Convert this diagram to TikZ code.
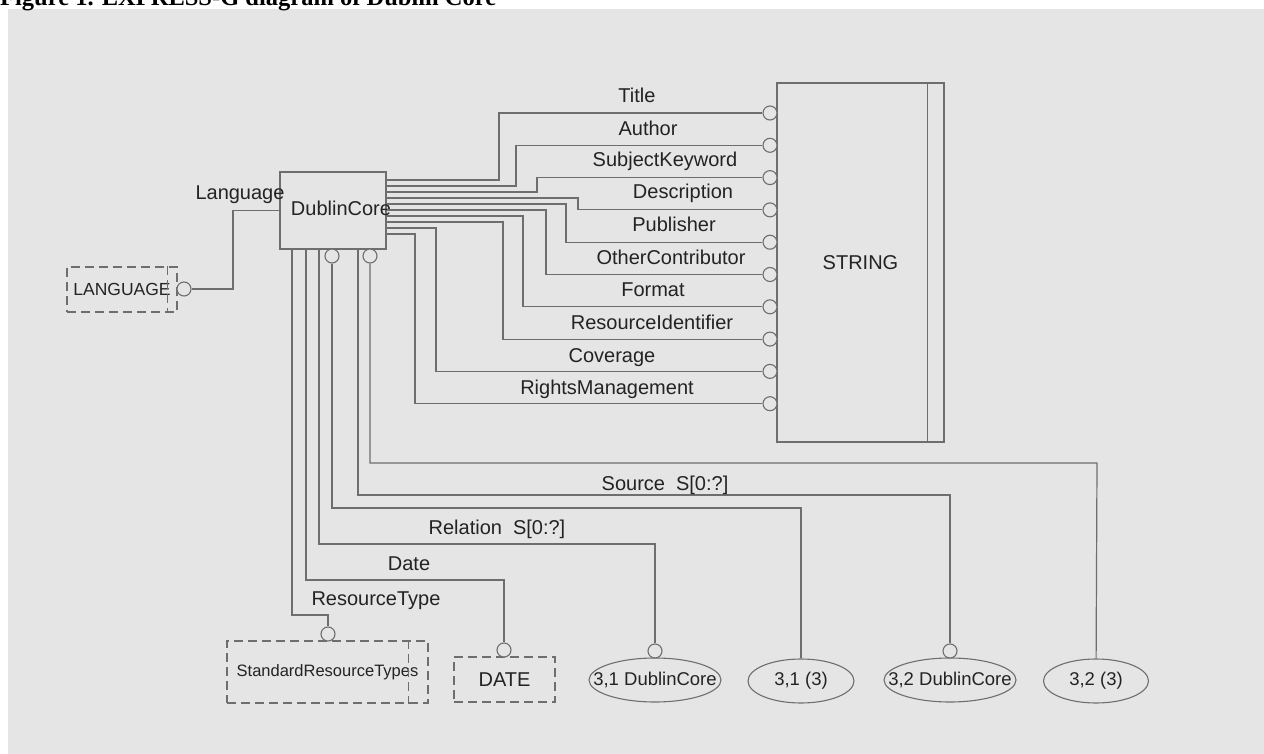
\documentclass[tikz,border=0pt]{standalone}
\usepackage{fontspec}
\setmainfont{Liberation Sans}
\newfontfamily\capfont{Liberation Serif}
\usetikzlibrary{shapes.geometric}

\definecolor{scan}{RGB}{229,229,229}
\definecolor{ink}{RGB}{110,110,110}
\definecolor{txt}{RGB}{35,35,35}

\begin{document}
\begin{tikzpicture}[
  x=1pt, y=-1pt,
  font=\fontsize{20}{24}\selectfont,
  % Node styles
  entity/.style={rectangle, draw=ink, line width=1.2pt, fill=scan, inner sep=0pt, text=txt},
  dtype/.style={rectangle, draw=ink, line width=1.1pt, dash pattern=on 9pt off 5pt, inner sep=0pt, text=txt},
  pageref/.style={ellipse, draw=ink, line width=1.1pt, inner sep=0pt, minimum height=44pt, text=txt, font=\fontsize{18.5}{22}\selectfont},
  knob/.style={circle, draw=ink, line width=1.1pt, fill=scan, inner sep=0pt, minimum size=14pt},
  lbl/.style={inner sep=0pt, anchor=base, text=txt},
  wire/.style={draw=ink, line width=1.2pt}
]

  % ============================================
  % Page and caption
  % ============================================
  \useasboundingbox (0,0) rectangle (1264,754);
  \fill[scan] (8,9) rectangle (1264,754);
  \node[anchor=base west, inner sep=0pt, font=\capfont\bfseries\fontsize{24.5}{28}\selectfont] (caption) at (0,6) {Figure 1. EXPRESS-G diagram of Dublin Core};

  % ============================================
  % Entity and types
  % ============================================
  \node[entity, minimum width=106pt, minimum height=77pt] (dc) at (333,210.5) {};
  \node[lbl] (dcName) at (341,216) {DublinCore};

  \node[entity, minimum width=167pt, minimum height=359pt] (str) at (860.5,262.5) {STRING};
  \draw[wire] ([xshift=-17pt]str.north east) -- ([xshift=-17pt]str.south east);

  \node[dtype, minimum width=110pt, minimum height=45pt, font=\fontsize{17.5}{21}\selectfont] (lang) at (122,289.5) {LANGUAGE};
  \draw[wire, dash pattern=on 9pt off 5pt] ([xshift=-10pt]lang.north east) -- ([xshift=-10pt]lang.south east);

  \node[dtype, minimum width=201pt, minimum height=62pt, font=\fontsize{16.5}{20}\selectfont] (srt) at (327.5,672) {StandardResourceTypes};
  \draw[wire, dash pattern=on 9pt off 5pt] ([xshift=-20pt]srt.north east) -- ([xshift=-20pt]srt.south east);

  \node[dtype, minimum width=101pt, minimum height=45pt] (date) at (504.5,679.5) {DATE};

  % Page references
  \node[pageref, minimum width=132pt] (r31dc) at (655,680) {\makebox[0pt]{3,1 DublinCore}};
  \node[pageref, minimum width=106pt] (r313) at (801,681) {\makebox[0pt]{3,1 (3)}};
  \node[pageref, minimum width=132pt] (r32dc) at (950,680) {\makebox[0pt]{3,2 DublinCore}};
  \node[pageref, minimum width=105pt] (r323) at (1096,681) {\makebox[0pt]{3,2 (3)}};

  % ============================================
  % Optional markers
  % ============================================
  \node[knob] (kLang) at (184,289) {};
  \node[knob] (kTitle) at (770,113) {};
  \node[knob] (kAuthor) at (770,145.3) {};
  \node[knob] (kSubject) at (770,177.6) {};
  \node[knob] (kDescr) at (770,209.9) {};
  \node[knob] (kPubl) at (770,242.2) {};
  \node[knob] (kOther) at (770,274.5) {};
  \node[knob] (kFormat) at (770,306.8) {};
  \node[knob] (kResId) at (770,339.1) {};
  \node[knob] (kCover) at (770,371.4) {};
  \node[knob] (kRights) at (770,403.7) {};
  \node[knob] (kDCa) at (332,256) {};
  \node[knob] (kDCb) at (370,256) {};
  \node[knob] (kRT) at (328,634) {};
  \node[knob] (kDate) at (504,650) {};
  \node[knob] (k31dc) at (655,651) {};
  \node[knob] (k32dc) at (950,651) {};

  % ============================================
  % Edges: attributes to STRING
  % ============================================
  \draw[wire] (kLang) -- (233,289) |- (dc.west);

  \draw[wire] ([yshift=30.5pt]dc.east) -| (499,113) -- (kTitle);
  \draw[wire] ([yshift=24.5pt]dc.east) -| (516,145.3) -- (kAuthor);
  \draw[wire] ([yshift=18.5pt]dc.east) -| (537,177.6) -- (kSubject);
  \draw[wire] ([yshift=12.5pt]dc.east) -| (578,209.9) -- (kDescr);
  \draw[wire] ([yshift=6.5pt]dc.east) -| (566,242.2) -- (kPubl);
  \draw[wire] ([yshift=0.5pt]dc.east) -| (546,274.5) -- (kOther);
  \draw[wire] ([yshift=-5.5pt]dc.east) -| (523,306.8) -- (kFormat);
  \draw[wire] ([yshift=-11.5pt]dc.east) -| (503,339.1) -- (kResId);
  \draw[wire] ([yshift=-17.5pt]dc.east) -| (436,371.4) -- (kCover);
  \draw[wire] ([yshift=-23.5pt]dc.east) -| (415,403.7) -- (kRights);

  % ============================================
  % Edges: attributes below the entity
  % ============================================
  \draw[wire] ([xshift=-41pt]dc.south) |- (328,615) -- (kRT);
  \draw[wire] ([xshift=-27pt]dc.south) |- (504,580) -- (kDate);
  \draw[wire] ([xshift=-14pt]dc.south) |- (655,544) -- (k31dc);
  \draw[wire] (kDCa) |- (801,508) -- (r313);
  \draw[wire] ([xshift=25pt]dc.south) |- (950,495) -- (k32dc);
  \draw[wire] (kDCb) |- (1097,463) -- (r323);

  % ============================================
  % Attribute names
  % ============================================
  \node[lbl] (lLang) at (240,200) {Language};
  \node[lbl] (lTitle) at (637,103) {Title};
  \node[lbl] (lAuthor) at (648,136) {Author};
  \node[lbl] (lSubject) at (665,167) {SubjectKeyword};
  \node[lbl] (lDescr) at (683,199) {Description};
  \node[lbl] (lPubl) at (674,232) {Publisher};
  \node[lbl] (lOther) at (671,265) {OtherContributor};
  \node[lbl] (lFormat) at (653,296) {Format};
  \node[lbl] (lResId) at (652,329) {ResourceIdentifier};
  \node[lbl] (lCover) at (612,362) {Coverage};
  \node[lbl] (lRights) at (607,394) {RightsManagement};
  \node[lbl] (lSource) at (665,490) {Source\hspace{11pt}S[0:?]};
  \node[lbl] (lRelation) at (497,534) {Relation\hspace{11pt}S[0:?]};
  \node[lbl] (lDate) at (409,570) {Date};
  \node[lbl] (lRT) at (376,605) {ResourceType};

\end{tikzpicture}
\end{document}
